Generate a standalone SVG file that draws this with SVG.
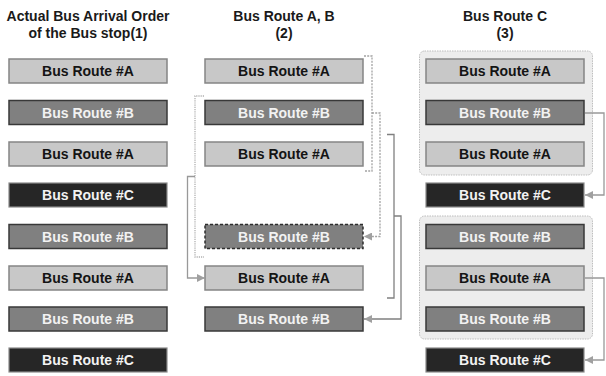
<svg xmlns="http://www.w3.org/2000/svg" width="606" height="376" viewBox="0 0 606 376">
<defs>
<style>
.t{font-family:"Liberation Sans",Arial,sans-serif;font-weight:bold;font-size:14px;text-anchor:middle;fill:#1a1a1a}
.bt{font-family:"Liberation Sans",Arial,sans-serif;font-weight:bold;font-size:14px;text-anchor:middle}
.a rect{fill:#c8c8c8;stroke:#858585;stroke-width:1.5}
.a text{fill:#141414}
.b rect{fill:#808080;stroke:#383838;stroke-width:1.5}
.b text{fill:#f2f2f2}
.c rect{fill:#262626;stroke:#8a8a8a;stroke-width:1.2}
.c text{fill:#f2f2f2}
.d rect{fill:#808080;stroke:#2e2e2e;stroke-width:1.5;stroke-dasharray:3 2}
.d text{fill:#f2f2f2}
.grp{fill:#ededed;stroke:#bdbdbd;stroke-width:1;stroke-dasharray:1.5 1}
.cn path{fill:none}
.dash{stroke:#a3a3a3;stroke-width:1.3;stroke-dasharray:2 1.2}
.dot{stroke:#b0b0b0;stroke-width:1.3;stroke-dasharray:1.2 1}
.sol{stroke:#808080;stroke-width:1.3}
.sol2{stroke:#999999;stroke-width:1.3}
</style>
<marker id="ar" markerUnits="userSpaceOnUse" markerWidth="9" markerHeight="8" refX="8" refY="4" orient="auto">
<path d="M0,0 L8,4 L0,8 z" fill="#a0a0a0"/>
</marker>
</defs>
<rect width="606" height="376" fill="#ffffff"/>

<g id="titles">
<text class="t" x="88" y="21">Actual Bus Arrival Order</text>
<text class="t" x="88" y="38">of the Bus stop(1)</text>
<text class="t" x="284" y="21">Bus Route A, B</text>
<text class="t" x="284" y="38">(2)</text>
<text class="t" x="505" y="21">Bus Route C</text>
<text class="t" x="505" y="38">(3)</text>
</g>

<g id="group3a"><rect class="grp" x="419.5" y="51" width="173" height="124" rx="5"/></g>
<g id="group3b"><rect class="grp" x="419.5" y="216" width="173" height="123" rx="5"/></g>

<g id="col1">
<g id="c1r1" class="a"><rect x="9" y="59" width="158" height="24"/><text class="bt" x="88" y="76">Bus Route #A</text></g>
<g id="c1r2" class="b"><rect x="9" y="100.5" width="158" height="24"/><text class="bt" x="88" y="117.5">Bus Route #B</text></g>
<g id="c1r3" class="a"><rect x="9" y="142" width="158" height="24"/><text class="bt" x="88" y="159">Bus Route #A</text></g>
<g id="c1r4" class="c"><rect x="9" y="183" width="158" height="24"/><text class="bt" x="88" y="200">Bus Route #C</text></g>
<g id="c1r5" class="b"><rect x="9" y="224.5" width="158" height="24"/><text class="bt" x="88" y="241.5">Bus Route #B</text></g>
<g id="c1r6" class="a"><rect x="9" y="266" width="158" height="24"/><text class="bt" x="88" y="283">Bus Route #A</text></g>
<g id="c1r7" class="b"><rect x="9" y="307" width="158" height="24"/><text class="bt" x="88" y="324">Bus Route #B</text></g>
<g id="c1r8" class="c"><rect x="9" y="348" width="158" height="24"/><text class="bt" x="88" y="365">Bus Route #C</text></g>
</g>

<g id="col2">
<g id="c2r1" class="a"><rect x="205" y="59" width="158" height="24"/><text class="bt" x="284" y="76">Bus Route #A</text></g>
<g id="c2r2" class="b"><rect x="205" y="100.5" width="158" height="24"/><text class="bt" x="284" y="117.5">Bus Route #B</text></g>
<g id="c2r3" class="a"><rect x="205" y="142" width="158" height="24"/><text class="bt" x="284" y="159">Bus Route #A</text></g>
<g id="c2r5" class="d"><rect x="205" y="224.5" width="158" height="24"/><text class="bt" x="284" y="241.5">Bus Route #B</text></g>
<g id="c2r6" class="a"><rect x="205" y="266" width="158" height="24"/><text class="bt" x="284" y="283">Bus Route #A</text></g>
<g id="c2r7" class="b"><rect x="205" y="307" width="158" height="24"/><text class="bt" x="284" y="324">Bus Route #B</text></g>
</g>

<g id="col3">
<g id="c3r1" class="a"><rect x="426" y="59" width="158" height="24"/><text class="bt" x="505" y="76">Bus Route #A</text></g>
<g id="c3r2" class="b"><rect x="426" y="100.5" width="158" height="24"/><text class="bt" x="505" y="117.5">Bus Route #B</text></g>
<g id="c3r3" class="a"><rect x="426" y="142" width="158" height="24"/><text class="bt" x="505" y="159">Bus Route #A</text></g>
<g id="c3r4" class="c"><rect x="426" y="183" width="158" height="24"/><text class="bt" x="505" y="200">Bus Route #C</text></g>
<g id="c3r5" class="b"><rect x="426" y="224.5" width="158" height="24"/><text class="bt" x="505" y="241.5">Bus Route #B</text></g>
<g id="c3r6" class="a"><rect x="426" y="266" width="158" height="24"/><text class="bt" x="505" y="283">Bus Route #A</text></g>
<g id="c3r7" class="b"><rect x="426" y="307" width="158" height="24"/><text class="bt" x="505" y="324">Bus Route #B</text></g>
<g id="c3r8" class="c"><rect x="426" y="348" width="158" height="24"/><text class="bt" x="505" y="365">Bus Route #C</text></g>
</g>

<g id="connectors" class="cn">
<path class="dash" d="M364,56 H372 V171 H364"/>
<path class="dash" d="M372,113 H380 V236.5 H364" marker-end="url(#ar)"/>
<path class="sol" d="M387,134.5 H394 V298 H387"/>
<path class="sol" d="M394,216 H401 V319 H364" marker-end="url(#ar)"/>
<path class="dot" d="M204,96 H195 V257 H204"/>
<path class="sol2" d="M195,176.5 H187.5 V278 H205" marker-end="url(#ar)"/>
<path class="sol2" d="M585,113 H604 V195 H585" marker-end="url(#ar)"/>
<path class="sol2" d="M585,278 H604 V360 H585" marker-end="url(#ar)"/>
</g>
</svg>
